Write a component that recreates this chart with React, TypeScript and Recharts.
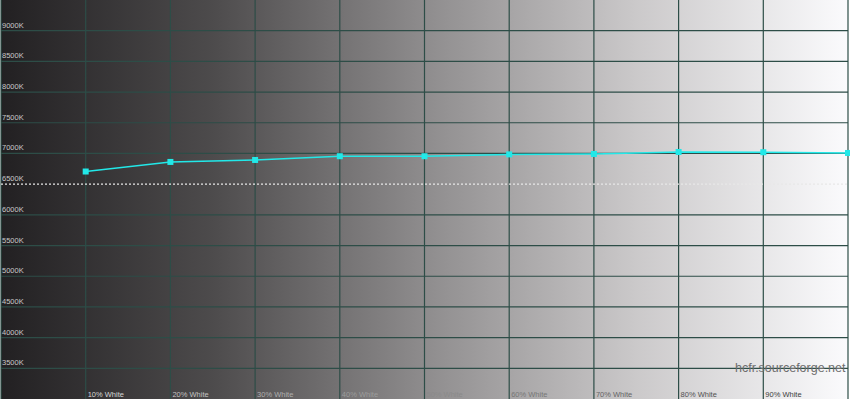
import { LineChart, Line, XAxis, YAxis, CartesianGrid, ReferenceLine } from "recharts"

const levels = [10, 20, 30, 40, 50, 60, 70, 80, 90, 100]
const colorTemp = [6706, 6862, 6894, 6955, 6955, 6985, 6992, 7024, 7020, 7008]
const xTicks = [10, 20, 30, 40, 50, 60, 70, 80, 90]
const yTicks = [3500, 4000, 4500, 5000, 5500, 6000, 6500, 7000, 7500, 8000, 8500, 9000]
const gridY = [3500, 4000, 4500, 5000, 5500, 6000, 7000, 7500, 8000, 8500, 9000]
const gridX = [0, 10, 20, 30, 40, 50, 60, 70, 80, 90, 100]
const target = 6500

const data = levels.map((x, i) => ({ x, temp: colorTemp[i] }))

const FONT = "'Liberation Sans', Arial, sans-serif"
const PLOT_BOTTOM = 400

// labels are drawn roughly as the inverse of the grey ramp behind them
const XTick = ({ x, payload }: any) => {
  const f = payload.value / 100
  const g = Math.round(230 - 185 * f)
  return (
    <text x={x + 2} y={PLOT_BOTTOM - 3} fontSize={7.5} fontFamily={FONT} fill={`rgb(${g},${g},${g})`}>
      {payload.value}% White
    </text>
  )
}

const YTick = ({ y, payload }: any) => (
  <text x={2} y={y - 3} fontSize={7.5} fontFamily={FONT} fill="#c8c8c8">
    {payload.value}K
  </text>
)

const SquareDot = ({ cx, cy }: any) => <rect x={cx - 3} y={cy - 3} width={6} height={6} fill="#22e8e8" />

export default function App() {
  return (
    <div style={{ position: "absolute", left: 0, top: 0, width: 850, height: 404, background: "#fff" }}>
      <LineChart width={850} height={404} data={data} margin={{ top: 0, right: 2, bottom: 4, left: 0 }}>
        <defs>
          <linearGradient id="ramp" x1="0" y1="0" x2="1" y2="0">
            <stop offset="0%" stopColor="#222022" />
            <stop offset="25%" stopColor="#4d4b4c" />
            <stop offset="50%" stopColor="#8e8c8d" />
            <stop offset="75%" stopColor="#cbc9ca" />
            <stop offset="100%" stopColor="#fbfbfd" />
          </linearGradient>
        </defs>
        <CartesianGrid
          fill="url(#ramp)"
          fillOpacity={1}
          stroke="#2d4d47"
          strokeWidth={1.2}
          horizontalValues={gridY}
          verticalValues={gridX}
        />
        <XAxis
          type="number"
          dataKey="x"
          domain={[0, 100]}
          ticks={xTicks}
          height={1}
          axisLine={false}
          tickLine={false}
          tick={<XTick />}
          interval={0}
        />
        <YAxis
          type="number"
          domain={[3000, 9500]}
          ticks={yTicks}
          width={1}
          axisLine={false}
          tickLine={false}
          tick={<YTick />}
          interval={0}
        />
        <ReferenceLine y={target} stroke="#e8e8e8" strokeDasharray="2 2" strokeWidth={1.2} />
        <Line
          dataKey="temp"
          type="linear"
          stroke="#22e8e8"
          strokeWidth={1.5}
          dot={<SquareDot />}
          activeDot={false}
          isAnimationActive={false}
        />
      </LineChart>
      <div
        style={{
          position: "absolute",
          left: 735,
          top: 361,
          fontFamily: FONT,
          fontSize: 12.5,
          color: "#6e6e6e",
        }}
      >
        hcfr.sourceforge.net
      </div>
    </div>
  )
}
